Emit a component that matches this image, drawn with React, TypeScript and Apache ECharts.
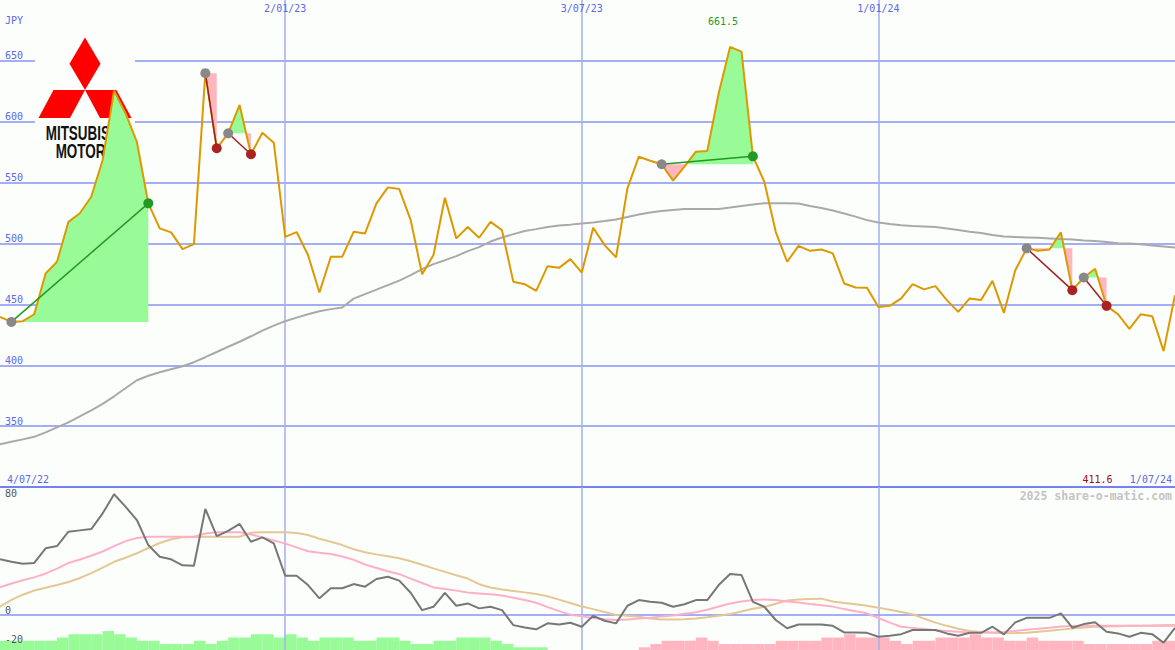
import React, { useEffect, useRef } from "react";
import * as echarts from "echarts";

// ---- data ----
const periodStart = "4/07/22";
const weeks: string[] = [];
for (let i = 0; i < 104; i++) {
  const d = new Date(Date.UTC(2022, 6, 11 + 7 * i));
  weeks.push(`${d.getUTCDate()}/${String(d.getUTCMonth() + 1).padStart(2, "0")}/${String(d.getUTCFullYear()).slice(2)}`);
}
const markedWeeks = [25, 51, 77];

const price = [
  439.7, 435.6, 436.2, 441.9, 475.4, 485.0, 517.8, 524.8, 538.4, 568.6,
  625.6, 607.0, 583.4, 533.0, 512.4, 509.1, 495.4, 499.5, 639.9, 578.2,
  590.5, 613.8, 573.3, 591.0, 582.8, 505.5, 509.4, 490.5, 459.8, 489.1,
  489.1, 509.6, 508.3, 533.0, 546.1, 544.7, 519.2, 474.8, 490.5, 537.6,
  504.2, 513.5, 504.7, 517.8, 511.0, 468.5, 466.6, 461.1, 481.4, 480.0,
  487.2, 476.1, 512.9, 498.7, 488.6, 545.3, 571.3, 568.0, 565.1, 551.6,
  563.1, 575.4, 576.0, 623.4, 661.5, 657.6, 571.6, 550.7, 509.6, 485.0,
  498.1, 494.0, 495.1, 491.9, 467.2, 463.9, 463.6, 447.9, 448.8, 454.9,
  466.6, 462.3, 465.0, 453.5, 443.8, 454.9, 453.5, 469.3, 443.0, 478.1,
  496.0, 494.0, 495.1, 509.1, 461.7, 472.1, 479.2, 448.8, 441.9, 429.9,
  441.9, 440.3, 411.6, 457.6,
];

const longMA = [
  335.0, 337.1, 339.1, 341.2, 344.9, 349.0, 353.1, 358.1, 363.0, 368.3,
  374.5, 381.1, 387.7, 391.4, 394.2, 396.7, 399.2, 402.5, 406.6, 410.9,
  415.2, 419.3, 423.8, 428.4, 432.5, 436.2, 439.1, 441.9, 444.4, 446.1,
  447.5, 454.7, 458.4, 462.1, 465.8, 469.5, 474.0, 478.9, 483.1, 486.3,
  489.6, 493.7, 497.0, 501.6, 504.9, 507.7, 510.2, 511.8, 513.5, 514.7,
  515.5, 516.4, 517.2, 518.4, 519.7, 521.7, 523.8, 525.4, 526.6, 527.5,
  528.3, 528.3, 528.3, 528.3, 529.5, 530.8, 532.0, 533.0, 533.0, 533.0,
  532.8, 530.8, 529.1, 527.1, 524.6, 522.1, 519.2, 517.2, 516.0, 514.9,
  514.3, 513.9, 513.5, 512.3, 511.0, 509.6, 508.6, 506.9, 505.7, 505.3,
  505.0, 504.7, 504.2, 503.6, 503.2, 502.5, 502.0, 501.2, 500.3, 499.9,
  499.3, 498.4, 497.6, 496.8,
];

const momentum = [
  38.3, 36.6, 35.3, 35.8, 45.9, 47.4, 57.3, 58.2, 59.1, 69.9,
  83.0, 74.5, 65.3, 48.1, 40.1, 38.3, 34.2, 33.9, 72.9, 54.3,
  57.8, 62.6, 50.4, 53.4, 49.3, 27.0, 27.0, 20.6, 11.5, 18.4,
  18.4, 21.3, 19.5, 24.8, 26.3, 23.7, 15.3, 3.4, 5.7, 15.3,
  6.4, 8.0, 4.6, 5.7, 3.4, -6.9, -8.5, -9.8, -5.7, -6.4,
  -5.3, -8.0, -0.5, -3.9, -5.7, 6.4, 10.3, 9.1, 8.5, 5.7,
  7.4, 10.3, 10.3, 20.6, 28.2, 27.5, 9.1, 5.7, -3.4, -9.1,
  -6.5, -6.4, -6.4, -7.4, -11.9, -11.9, -12.2, -14.9, -14.2, -13.1,
  -10.3, -10.3, -10.3, -12.6, -14.2, -12.2, -12.2, -8.0, -13.3, -5.0,
  -1.9, -1.9, -1.9, 1.2, -8.7, -6.2, -5.0, -11.5, -12.6, -14.9,
  -12.2, -13.1, -19.0, -8.7,
];

const momentumFast = [
  19.1, 21.7, 23.9, 25.9, 28.6, 31.9, 35.8, 38.2, 40.8, 43.7,
  47.4, 50.8, 52.9, 53.8, 53.8, 53.8, 53.8, 53.8, 56.0, 56.9,
  56.9, 56.9, 55.3, 53.4, 51.3, 49.1, 46.5, 43.9, 42.8, 41.9,
  40.2, 38.0, 34.7, 32.4, 30.1, 28.1, 25.0, 22.0, 19.0, 17.9,
  16.8, 15.5, 14.9, 14.3, 13.5, 11.9, 10.3, 8.5, 5.5, 2.7,
  0.3, -0.8, -2.1, -2.9, -3.4, -3.0, -2.3, -1.9, -0.9, -0.3,
  0.9, 1.9, 3.7, 5.9, 8.0, 9.4, 10.4, 10.7, 10.3, 9.4,
  8.6, 7.6, 6.8, 5.8, 4.1, 2.6, 1.2, -2.0, -5.2, -8.0,
  -8.8, -9.6, -10.4, -10.9, -11.5, -11.9, -11.9, -11.9, -11.7, -10.9,
  -10.1, -9.4, -8.7, -7.9, -7.5, -7.4, -7.4, -7.4, -7.4, -7.4,
  -7.4, -7.4, -7.4, -7.4,
];

const momentumSlow = [
  5.8, 10.5, 14.0, 16.9, 18.8, 20.7, 22.7, 25.5, 28.8, 32.6,
  36.6, 39.4, 42.5, 46.1, 49.5, 52.1, 53.4, 53.7, 53.8, 53.8,
  53.8, 53.8, 56.6, 56.9, 56.9, 56.9, 56.4, 55.0, 52.4, 50.4,
  48.1, 45.2, 43.2, 41.7, 40.4, 39.1, 37.0, 34.6, 32.1, 29.7,
  27.4, 25.1, 21.2, 18.9, 17.5, 16.6, 15.6, 14.5, 12.9, 10.6,
  8.3, 5.9, 4.1, 2.1, 0.1, -0.5, -1.1, -2.3, -3.0, -3.0,
  -2.8, -2.3, -1.5, -0.5, 0.7, 2.5, 4.3, 5.6, 7.8, 10.0,
  10.7, 11.1, 11.3, 9.3, 8.3, 7.4, 6.4, 5.0, 3.6, 2.1,
  0.6, -2.4, -5.2, -7.4, -9.4, -10.9, -11.6, -12.2, -12.5, -12.4,
  -12.1, -11.4, -10.8, -10.0, -9.2, -8.5, -8.0, -7.8, -7.6, -7.4,
  -7.3, -7.2, -7.0, -6.9,
];

// weekly histogram levels (one per interval between points)
const histUp = [
  3, 3, 3, 3, 3, 4, 5, 5, 5, 6,
  5, 4, 3, 3, 2, 2, 2, 3, 2, 3,
  4, 4, 5, 5, 4, 5, 4, 3, 4, 4,
  4, 3, 3, 4, 4, 3, 2, 2, 3, 3,
  4, 4, 4, 3, 2, 1, 1, 1, 0, 0,
  0, 0, 0, 0, 0, 0, 0, 0, 0, 0,
  0, 0, 0, 0, 0, 0, 0, 0, 0, 0,
  0, 0, 0, 0, 0, 0, 0, 0, 0, 0,
  0, 0, 0, 0, 0, 0, 0, 0, 0, 0,
  0, 0, 0, 0, 0, 0, 0, 0, 0, 0,
  0, 0, 0,
];
const histDown = [
  0, 0, 0, 0, 0, 0, 0, 0, 0, 0,
  0, 0, 0, 0, 0, 0, 0, 0, 0, 0,
  0, 0, 0, 0, 0, 0, 0, 0, 0, 0,
  0, 0, 0, 0, 0, 0, 0, 0, 0, 0,
  0, 0, 0, 0, 0, 0, 0, 0, 0, 0,
  0, 0, 0, 0, 0, 0, 1, 2, 3, 3,
  3, 4, 3, 2, 2, 2, 2, 2, 3, 3,
  3, 3, 4, 4, 5, 4, 4, 4, 3, 2,
  3, 3, 4, 4, 4, 5, 4, 4, 3, 3,
  4, 3, 3, 3, 3, 2, 2, 2, 2, 2,
  2, 3, 3,
];

// highlighted moves: [start index, end index]
const patterns: [number, number][] = [
  [1, 13], [18, 19], [20, 22], [58, 66], [90, 94], [95, 97],
];

// ---- styles ----
const BG = "#fcfefc";
const GRID_C = "#a4aef2";
const AXIS_C = "#7282f0";
const LABEL_C = "#5b68e8";
const MONO = '"DejaVu Sans Mono", monospace';
const isMarked = (i: number) => markedWeeks.includes(i);

function txt(text: string, x: number, y: number, align: string, fill: string, font = `10px ${MONO}`, extra: any = {}) {
  return {
    type: "text",
    z: 10,
    x,
    y,
    ...extra,
    style: {
      text,
      font,
      fill,
      align,
      textAlign: align,
      verticalAlign: "middle",
      textVerticalAlign: "middle",
    },
  };
}

function buildOption() {
  const maxV = Math.max(...price);
  const minV = Math.min(...price);

  const fillSeries = {
    type: "custom",
    xAxisIndex: 0,
    yAxisIndex: 0,
    z: 2,
    silent: true,
    encode: { x: [0, 1], y: 2 },
    data: patterns.map((p) => [p[0], p[1], price[p[0]]]),
    renderItem: (params: any, api: any) => {
      const [s, e] = patterns[params.dataIndex];
      const level = price[s];
      const pts: number[][] = [];
      for (let i = s; i <= e; i++) pts.push(api.coord([i, price[i]]));
      const yL = api.coord([s, level])[1];
      const up: number[][] = [[pts[0][0], yL]];
      const down: number[][] = [[pts[0][0], yL]];
      for (let k = 0; k < pts.length; k++) {
        const [x, y] = pts[k];
        if (k > 0) {
          const [px, py] = pts[k - 1];
          if ((py - yL) * (y - yL) < 0) {
            const t = (yL - py) / (y - py);
            const cx = px + t * (x - px);
            up.push([cx, yL]);
            down.push([cx, yL]);
          }
        }
        up.push([x, Math.min(y, yL)]);
        down.push([x, Math.max(y, yL)]);
      }
      const xe = pts[pts.length - 1][0];
      up.push([xe, yL]);
      down.push([xe, yL]);
      return {
        type: "group",
        children: [
          { type: "polygon", shape: { points: up }, style: { fill: "#98fb98" } },
          { type: "polygon", shape: { points: down }, style: { fill: "#ffb6c1" } },
        ],
      };
    },
  };

  const connectorSeries = patterns.map(([s, e]) => {
    const rise = price[e] > price[s];
    return {
      type: "line",
      xAxisIndex: 0,
      yAxisIndex: 0,
      z: 6,
      silent: true,
      symbol: "circle",
      symbolSize: 10,
      showAllSymbol: true,
      lineStyle: { color: rise ? "#229922" : "#992222", width: 1.5 },
      data: [
        { value: [s, price[s]], itemStyle: { color: "#888888" } },
        { value: [e, price[e]], itemStyle: { color: rise ? "#229922" : "#aa2222" } },
      ],
    };
  });

  return {
    animation: false,
    backgroundColor: BG,
    grid: [
      { left: 0, right: 0, top: 0, height: 487 },
      { left: 0, right: 0, top: 487, height: 163 },
      { left: 0, right: 0, top: 600, height: 50 },
    ],
    xAxis: [
      {
        type: "category", gridIndex: 0, data: weeks, boundaryGap: false, position: "top",
        axisLine: { show: false }, axisTick: { show: false },
        axisLabel: { inside: true, interval: (i: number) => isMarked(i), color: LABEL_C, fontFamily: "DejaVu Sans Mono", fontSize: 10, margin: 3 },
        splitLine: { show: true, interval: (i: number) => isMarked(i), lineStyle: { color: GRID_C, width: 1.5 } },
      },
      {
        type: "category", gridIndex: 0, data: weeks, boundaryGap: false, position: "bottom", z: 1,
        axisLine: { show: true, lineStyle: { color: AXIS_C, width: 2 } },
        axisTick: { show: false }, axisLabel: { show: false }, splitLine: { show: false },
      },
      {
        type: "category", gridIndex: 1, data: weeks, boundaryGap: false, z: 2,
        axisLine: { show: false }, axisTick: { show: false }, axisLabel: { show: false },
        splitLine: { show: true, interval: (i: number) => isMarked(i), lineStyle: { color: GRID_C, width: 1.5 } },
      },
      { type: "category", gridIndex: 2, data: weeks.slice(0, -1), boundaryGap: true, show: false },
    ],
    yAxis: [
      {
        type: "value", gridIndex: 0, min: 300, max: 700, interval: 50,
        axisLine: { show: false }, axisTick: { show: false },
        axisLabel: {
          inside: true, color: LABEL_C, fontFamily: "DejaVu Sans Mono", fontSize: 10, margin: 5, verticalAlign: "bottom",
          formatter: (v: number) => (v > 300 && v < 700 ? String(v) : ""),
        },
        splitLine: { show: true, showMinLine: false, showMaxLine: false, lineStyle: { color: GRID_C, width: 2 } },
      },
      {
        type: "value", gridIndex: 1, min: -24, max: 88, interval: 4, z: 8,
        axisLine: { show: false }, axisTick: { show: false },
        axisLabel: {
          inside: true, color: "#555555", fontFamily: "DejaVu Sans Mono", fontSize: 10, margin: 5, verticalAlign: "bottom",
          formatter: (v: number) => ([80, 0, -20].some((t) => Math.abs(t - v) < 1e-6) ? String(Math.round(v)) : ""),
        },
        splitLine: { show: false },
      },
      { type: "value", gridIndex: 2, min: 0.17, max: 15.51, show: false },
    ],
    graphic: [
      { type: "rect", z: 1, shape: { x: 35, y: 30, width: 100, height: 135 }, style: { fill: BG } },
      { type: "polygon", z: 1, shape: { points: [[85, 37.5], [100.5, 63.8], [85, 90], [69.5, 63.8]] }, style: { fill: "#ff0000" } },
      { type: "polygon", z: 1, shape: { points: [[53.5, 90], [85, 90], [70, 118], [38.5, 118]] }, style: { fill: "#ff0000" } },
      { type: "polygon", z: 1, shape: { points: [[85, 90], [116.5, 90], [131.5, 118], [100, 118]] }, style: { fill: "#ff0000" } },
      { ...txt("MITSUBISHI", 84.5, 132.5, "center", "#111111", 'bold 21px "Liberation Sans", Arial, sans-serif', { scaleX: 0.64 }), z: 1 },
      { ...txt("MOTORS", 85, 150.5, "center", "#111111", 'bold 21px "Liberation Sans", Arial, sans-serif', { scaleX: 0.64 }), z: 1 },
      txt("JPY", 5, 20, "left", LABEL_C),
      txt(periodStart, 7, 479, "left", LABEL_C),
      txt(weeks[weeks.length - 1], 1172, 479, "right", LABEL_C),
      txt(minV.toFixed(1), 1097.5, 479, "center", "#991111"),
      txt(maxV.toFixed(1), 723, 21, "center", "#229922"),
      txt("2025 share-o-matic.com", 1172, 496, "right", "#c4c4c4", `bold 11.5px ${MONO}`),
    ],
    series: [
      fillSeries,
      {
        type: "line", xAxisIndex: 0, yAxisIndex: 0, z: 3, silent: true, symbol: "none",
        lineStyle: { color: "#a9a9a9", width: 2 }, data: longMA,
      },
      {
        type: "line", xAxisIndex: 0, yAxisIndex: 0, z: 4, silent: true, symbol: "none",
        lineStyle: { color: "#dd9900", width: 2 }, data: price,
      },
      ...connectorSeries,
      {
        type: "bar", xAxisIndex: 3, yAxisIndex: 2, z: 1, silent: true, barWidth: "100%", barGap: "-100%",
        itemStyle: { color: "#98fb98" }, data: histUp.map((v) => (v > 0 ? v : "-")),
      },
      {
        type: "bar", xAxisIndex: 3, yAxisIndex: 2, z: 1, silent: true, barWidth: "100%", barGap: "-100%",
        itemStyle: { color: "#ffb6c1" }, data: histDown.map((v) => (v > 0 ? v : "-")),
      },
      {
        type: "line", xAxisIndex: 2, yAxisIndex: 1, z: 3, silent: true, symbol: "none",
        lineStyle: { color: "#e4c894", width: 2 }, data: momentumSlow,
        markLine: {
          z: 1, silent: true, symbol: "none", label: { show: false },
          lineStyle: { color: GRID_C, width: 2, type: "solid" }, data: [{ yAxis: 0 }],
        },
      },
      {
        type: "line", xAxisIndex: 2, yAxisIndex: 1, z: 4, silent: true, symbol: "none",
        lineStyle: { color: "#ffb0c8", width: 2 }, data: momentumFast,
      },
      {
        type: "line", xAxisIndex: 2, yAxisIndex: 1, z: 5, silent: true, symbol: "none",
        lineStyle: { color: "#777777", width: 2 }, data: momentum,
      },
    ],
  };
}

export default function App() {
  const ref = useRef<HTMLDivElement>(null);
  useEffect(() => {
    const chart = echarts.init(ref.current!, null, { renderer: "svg" });
    chart.setOption(buildOption() as any);
    return () => chart.dispose();
  }, []);
  return (
    <div
      ref={ref}
      style={{ position: "absolute", left: 0, top: 0, width: 1175, height: 650, background: BG }}
    />
  );
}
